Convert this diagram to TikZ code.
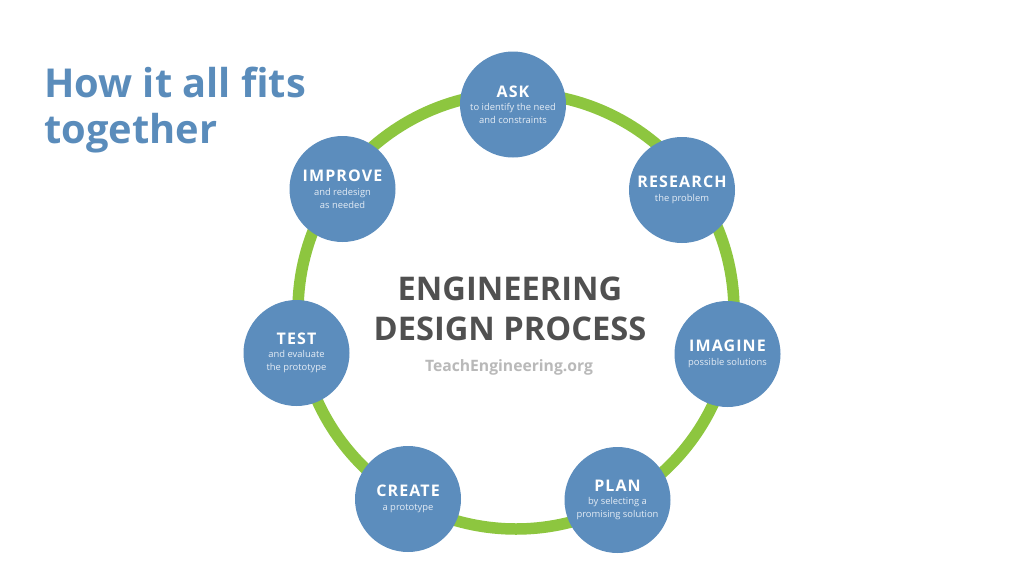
\documentclass[tikz,border=0pt]{standalone}
\usepackage{fontspec}
\setmainfont{Open Sans}
\definecolor{nodeblue}{RGB}{92,141,189}
\definecolor{ringgreen}{RGB}{141,198,63}
\definecolor{titleblue}{RGB}{90,140,187}
\definecolor{darkgray}{RGB}{80,80,80}
\definecolor{lightgray}{RGB}{185,185,185}
\definecolor{subwhite}{RGB}{228,236,245}
\newcommand{\stagehead}[1]{{\fontsize{16}{13}\selectfont\bfseries\addfontfeatures{LetterSpace=7}\color{white}#1}}
\tikzset{
  ring/.style={draw=ringgreen, line width=11.5pt},
  stage/.style={circle, fill=nodeblue, minimum size=106pt, inner sep=0pt,
    align=center, text=subwhite, font=\fontsize{9.4}{13}\selectfont},
  pagetitle/.style={anchor=north west, inner sep=0pt, align=left, text=titleblue,
    font=\fontsize{39.8}{46.6}\selectfont\bfseries},
  centertitle/.style={anchor=north, inner sep=0pt, align=center, text=darkgray,
    font=\fontsize{32.6}{40}\selectfont\bfseries},
  sitename/.style={anchor=base, inner sep=0pt, text=lightgray,
    font=\fontsize{15.7}{20}\selectfont\bfseries},
}
\begin{document}
\begin{tikzpicture}[x=1pt,y=-1pt]
\useasboundingbox (0,0) rectangle (1024,576);
\fill[white] (0,0) rectangle (1024,576);
\node[pagetitle] (title) at (44,66.5) {How it all fits\\together};
\draw[ring] (516,311) circle[radius=218];
\node[centertitle] (edp) at (510,276.7) {ENGINEERING\\DESIGN PROCESS};
\node[sitename] (site) at (509,371) {TeachEngineering.org};
\node[stage] (ask) at (513,104.5) {\stagehead{ASK}\\[0.5pt]to identify the need\\and constraints};
\node[stage] (research) at (682,190) {\stagehead{RESEARCH}\\[0.5pt]the problem};
\node[stage] (imagine) at (727.5,354) {\stagehead{IMAGINE}\\[0.5pt]possible solutions};
\node[stage] (plan) at (617.5,500) {\stagehead{PLAN}\\[0.5pt]by selecting a\\promising solution};
\node[stage] (create) at (408,499) {\stagehead{CREATE}\\[0.5pt]a prototype};
\node[stage] (test) at (296.5,353) {\stagehead{TEST}\\[0.5pt]and evaluate\\the prototype};
\node[stage] (improve) at (342.5,189) {\stagehead{IMPROVE}\\[0.5pt]and redesign\\as needed};
\end{tikzpicture}
\end{document}
